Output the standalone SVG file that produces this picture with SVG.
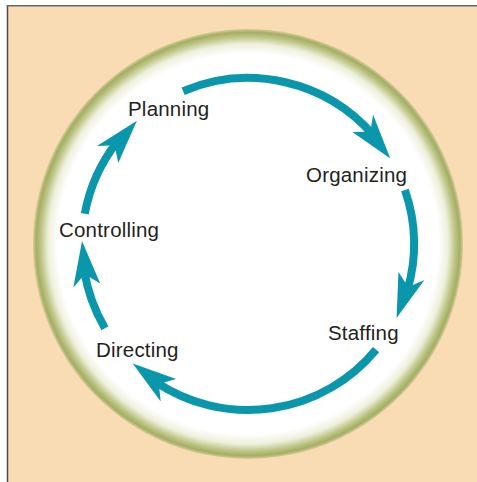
<svg xmlns="http://www.w3.org/2000/svg" width="477" height="482" viewBox="0 0 477 482">
<defs>
<radialGradient id="ring" cx="248" cy="244" r="215" gradientUnits="userSpaceOnUse">
<stop offset="0" stop-color="#ffffff"/>
<stop offset="0.885" stop-color="#ffffff"/>
<stop offset="0.93" stop-color="#eef0dc"/>
<stop offset="0.965" stop-color="#bcc483"/>
<stop offset="0.985" stop-color="#a3ae63"/>
<stop offset="1" stop-color="#d6cc97"/>
</radialGradient>
<style>
.lbl{font-family:"Liberation Sans",Arial,sans-serif;font-size:20.5px;letter-spacing:0.2px;fill:#231f20}
.shaft{fill:none;stroke:#0a97ab;stroke-width:8}
.head{fill:#0a97ab}
</style>
</defs>
<rect x="0" y="0" width="477" height="482" fill="#ffffff"/>
<rect x="7.5" y="5.8" width="470" height="477" fill="#fadcb4"/>
<line x1="7.5" y1="5" x2="7.5" y2="482" stroke="#4a4a4a" stroke-width="1.5"/>
<line x1="6.8" y1="5.8" x2="477" y2="5.8" stroke="#666666" stroke-width="1.5"/>
<circle id="ring-bg" cx="248" cy="244" r="215" fill="url(#ring)"/>
<g id="connectors">
<g id="planning-to-organizing">
<path class="shaft" d="M183.14 91.20 A166 166 0 0 1 373.28 135.09"/>
<polygon class="head" points="390.29,158.51 373.05,114.53 370.39,131.85 352.35,132.10"/>
</g>
<g id="organizing-to-staffing">
<path class="shaft" d="M404.96 189.95 A166 166 0 0 1 407.16 291.14"/>
<polygon class="head" points="396.55,318.07 424.38,279.89 408.34,286.96 398.44,271.88"/>
</g>
<g id="staffing-to-directing">
<path class="shaft" d="M376.09 349.59 A166 166 0 0 1 155.17 381.61"/>
<polygon class="head" points="132.68,363.40 160.74,401.43 158.81,384.00 176.17,379.08"/>
</g>
<g id="directing-to-controlling">
<path class="shaft" d="M104.97 328.25 A166 166 0 0 1 84.04 269.97"/>
<polygon class="head" points="82.03,241.10 73.35,287.54 84.77,274.25 100.22,283.60"/>
</g>
<g id="controlling-to-planning">
<path class="shaft" d="M84.77 213.75 A166 166 0 0 1 117.19 141.79"/>
<polygon class="head" points="136.93,120.65 97.03,145.97 114.55,145.26 118.26,162.93"/>
</g>
</g>
<g id="planning"><text class="lbl" x="128" y="116">Planning</text></g>
<g id="organizing"><text class="lbl" x="306" y="182">Organizing</text></g>
<g id="staffing"><text class="lbl" x="328" y="339.5">Staffing</text></g>
<g id="directing"><text class="lbl" x="96" y="357">Directing</text></g>
<g id="controlling"><text class="lbl" x="59" y="237">Controlling</text></g>
</svg>
